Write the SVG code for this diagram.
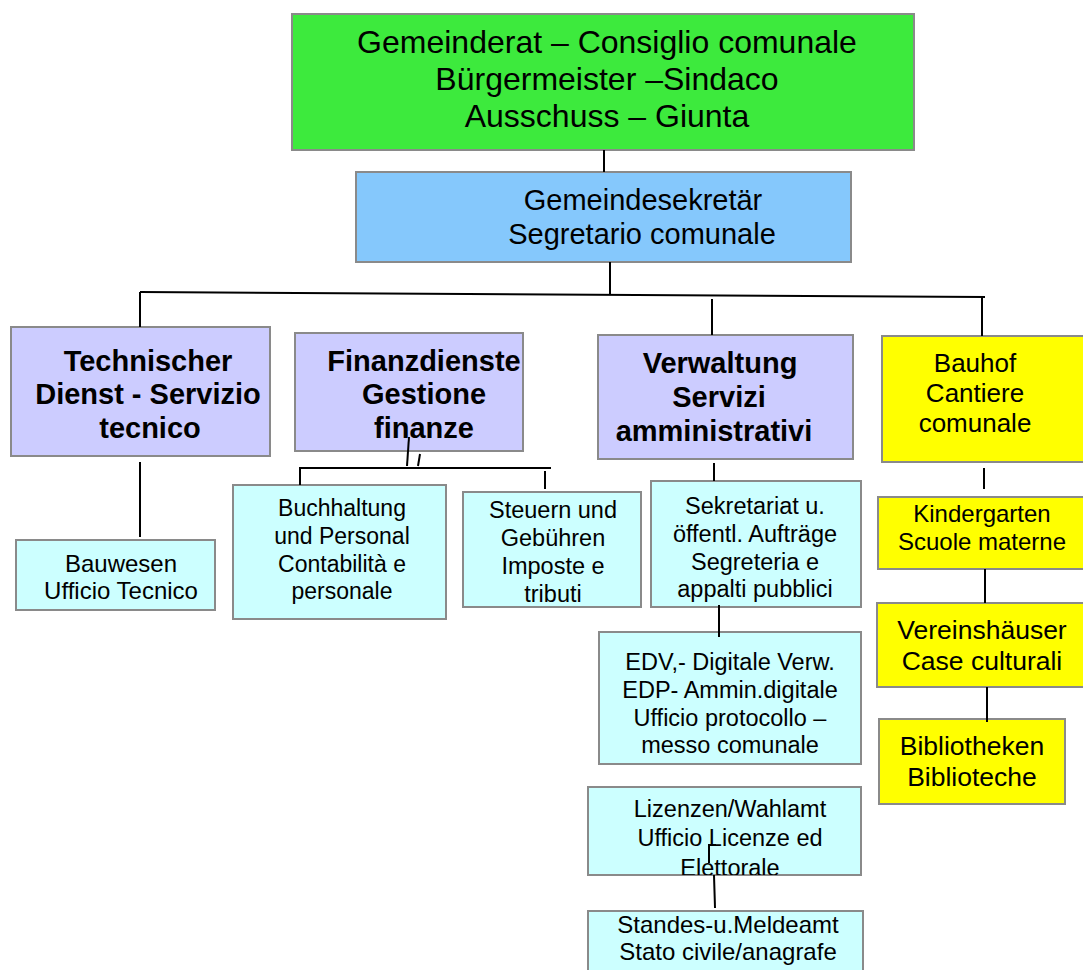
<svg xmlns="http://www.w3.org/2000/svg" width="1083" height="970" viewBox="0 0 1083 970">
<style>
  .box { stroke: #8a8a8a; stroke-width: 2; }
  .green { fill: #3dea3d; }
  .blue { fill: #85c8fc; }
  .lav { fill: #ccccff; }
  .cyan { fill: #ccffff; }
  .yel { fill: #ffff00; }
  text { font-family: "Liberation Sans", Arial, sans-serif; fill: #000; text-anchor: middle; }
  .b { font-weight: bold; }
  .conn line, .conn path { stroke: #000; stroke-width: 2; fill: none; }
</style>
<defs>
  <clipPath id="clipLiz"><rect x="588" y="787" width="273" height="88"/></clipPath>
</defs>
<rect width="1083" height="970" fill="#ffffff"/>

<g id="n-gemeinderat">
  <rect class="box green" x="292" y="14" width="622" height="136"/>
  <text x="607" y="53" font-size="32">Gemeinderat – Consiglio comunale</text>
  <text x="607" y="90" font-size="32">Bürgermeister –Sindaco</text>
  <text x="607" y="127" font-size="32">Ausschuss – Giunta</text>
</g>

<g id="n-sekretaer">
  <rect class="box blue" x="356" y="172" width="495" height="90"/>
  <text x="643" y="210" font-size="29">Gemeindesekretär</text>
  <text x="642" y="244" font-size="29">Segretario comunale</text>
</g>

<g id="n-technischer">
  <rect class="box lav" x="11" y="327" width="259" height="129"/>
  <text class="b" x="148" y="371" font-size="29">Technischer</text>
  <text class="b" x="148" y="404" font-size="29">Dienst - Servizio</text>
  <text class="b" x="150" y="438" font-size="29">tecnico</text>
</g>

<g id="n-finanz">
  <rect class="box lav" x="295" y="333" width="228" height="118"/>
  <text class="b" x="424" y="371" font-size="29">Finanzdienste</text>
  <text class="b" x="424" y="404" font-size="29">Gestione</text>
  <text class="b" x="424" y="438" font-size="29">finanze</text>
</g>

<g id="n-verwaltung">
  <rect class="box lav" x="598" y="335" width="255" height="124"/>
  <text class="b" x="720" y="373" font-size="29">Verwaltung</text>
  <text class="b" x="719" y="407" font-size="29">Servizi</text>
  <text class="b" x="714" y="441" font-size="29">amministrativi</text>
</g>

<g id="n-bauhof">
  <rect class="box yel" x="882" y="336" width="210" height="126"/>
  <text x="975" y="372" font-size="26">Bauhof</text>
  <text x="975" y="402" font-size="26">Cantiere</text>
  <text x="975" y="432" font-size="26">comunale</text>
</g>

<g id="n-bauwesen">
  <rect class="box cyan" x="16" y="540" width="199" height="70"/>
  <text x="121" y="572" font-size="24">Bauwesen</text>
  <text x="121" y="599" font-size="24">Ufficio Tecnico</text>
</g>

<g id="n-buchhaltung">
  <rect class="box cyan" x="233" y="485" width="213" height="134"/>
  <text x="342" y="516" font-size="23">Buchhaltung</text>
  <text x="342" y="544" font-size="23">und Personal</text>
  <text x="342" y="572" font-size="23">Contabilità e</text>
  <text x="342" y="599" font-size="23">personale</text>
</g>

<g id="n-steuern">
  <rect class="box cyan" x="463" y="492" width="178" height="115"/>
  <text x="553" y="518" font-size="23.5">Steuern und</text>
  <text x="553" y="546" font-size="23.5">Gebühren</text>
  <text x="553" y="574" font-size="23.5">Imposte e</text>
  <text x="553" y="602" font-size="23.5">tributi</text>
</g>

<g id="n-sekretariat">
  <rect class="box cyan" x="651" y="481" width="210" height="126"/>
  <text x="755" y="514" font-size="23.5">Sekretariat u.</text>
  <text x="755" y="542" font-size="23.5">öffentl. Aufträge</text>
  <text x="755" y="570" font-size="23.5">Segreteria e</text>
  <text x="755" y="597" font-size="23.5">appalti pubblici</text>
</g>

<g id="n-edv">
  <rect class="box cyan" x="599" y="632" width="262" height="132"/>
  <text x="730" y="670" font-size="23.5">EDV,- Digitale Verw.</text>
  <text x="730" y="698" font-size="23.5">EDP- Ammin.digitale</text>
  <text x="730" y="726" font-size="23.5">Ufficio protocollo –</text>
  <text x="730" y="753" font-size="23.5">messo comunale</text>
</g>

<g id="n-lizenzen">
  <rect class="box cyan" x="588" y="787" width="273" height="88"/>
  <g clip-path="url(#clipLiz)">
    <text x="730" y="817" font-size="23.5">Lizenzen/Wahlamt</text>
    <text x="730" y="846" font-size="23.5">Ufficio Licenze ed</text>
    <text x="730" y="876" font-size="23.5">Elettorale</text>
  </g>
</g>

<g id="n-standes">
  <rect class="box cyan" x="588" y="911" width="275" height="70"/>
  <text x="728" y="933" font-size="24">Standes-u.Meldeamt</text>
  <text x="728" y="960" font-size="24">Stato civile/anagrafe</text>
</g>

<g id="n-kindergarten">
  <rect class="box yel" x="878" y="497" width="212" height="72"/>
  <text x="982" y="522" font-size="24">Kindergarten</text>
  <text x="982" y="550" font-size="24">Scuole materne</text>
</g>

<g id="n-vereinshaeuser">
  <rect class="box yel" x="877" y="603" width="213" height="84"/>
  <text x="982" y="639" font-size="26.5">Vereinshäuser</text>
  <text x="982" y="670" font-size="26.5">Case culturali</text>
</g>

<g id="n-bibliotheken">
  <rect class="box yel" x="879" y="719" width="186" height="85"/>
  <text x="972" y="755" font-size="26.5">Bibliotheken</text>
  <text x="972" y="786" font-size="26.5">Biblioteche</text>
</g>

<g class="conn" id="connectors">
  <line x1="604" y1="150" x2="604" y2="172"/>
  <line x1="610" y1="262" x2="610" y2="294"/>
  <line x1="140" y1="292" x2="985" y2="297"/>
  <line x1="140" y1="292" x2="140" y2="327"/>
  <line x1="712" y1="299" x2="712" y2="335"/>
  <line x1="982" y1="297" x2="982" y2="336"/>
  <line x1="140" y1="462" x2="140" y2="537"/>
  <line x1="409" y1="437" x2="407" y2="466"/>
  <line x1="420" y1="454" x2="418" y2="466"/>
  <line x1="299" y1="468" x2="551" y2="468"/>
  <line x1="300" y1="468" x2="300" y2="485"/>
  <line x1="545" y1="471" x2="545" y2="489"/>
  <line x1="714" y1="463" x2="714" y2="481"/>
  <line x1="984" y1="468" x2="984" y2="489"/>
  <line x1="985" y1="569" x2="985" y2="603"/>
  <line x1="987" y1="687" x2="987" y2="722"/>
  <line x1="719" y1="605" x2="719" y2="637"/>
  <path d="M716,845 H709 V863"/>
  <line x1="714" y1="875" x2="715" y2="908"/>
</g>
</svg>
